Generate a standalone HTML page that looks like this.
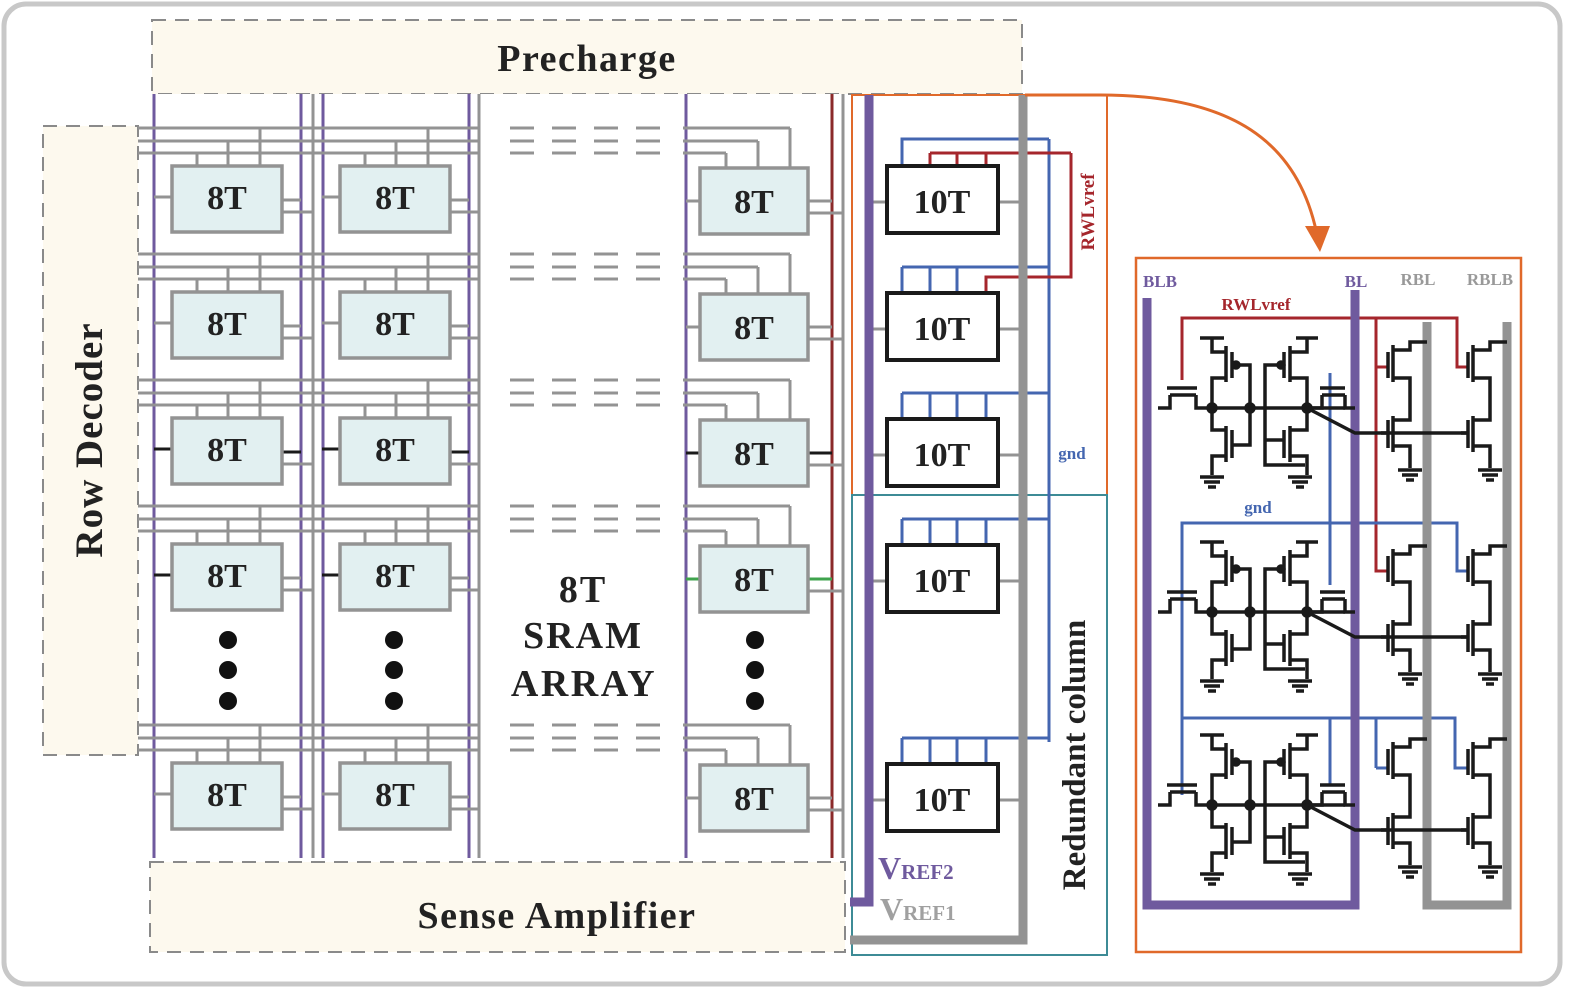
<!DOCTYPE html>
<html><head><meta charset="utf-8">
<style>
html,body{margin:0;padding:0;background:#fff;}
svg{display:block;}
text{font-family:"Liberation Serif",serif;font-weight:bold;}
</style></head>
<body>
<svg id="s" width="1575" height="992" viewBox="0 0 1575 992" xmlns="http://www.w3.org/2000/svg"></svg>
<script>
var G='#939393',P='#6f5a9e',R='#a5262c',B='#4466b0',O='#e0692a',T='#3d8b96',K='#1a1a1a',DR='#8b2a2a';
var o='';
function L(x1,y1,x2,y2,c,w){o+='<line x1="'+x1+'" y1="'+y1+'" x2="'+x2+'" y2="'+y2+'" stroke="'+c+'" stroke-width="'+(w||3)+'"/>';}
function PL(pts,c,w){o+='<polyline points="'+pts+'" fill="none" stroke="'+c+'" stroke-width="'+(w||3)+'" stroke-linejoin="miter"/>';}
function RC(x,y,w,h,f,s,sw,extra){o+='<rect x="'+x+'" y="'+y+'" width="'+w+'" height="'+h+'" fill="'+f+'" stroke="'+s+'" stroke-width="'+sw+'" '+(extra||'')+'/>';}
function TX(x,y,t,sz,c,extra){o+='<text x="'+x+'" y="'+y+'" font-size="'+sz+'" fill="'+(c||'#222')+'" text-anchor="middle" '+(extra||'')+'>'+t+'</text>';}
RC(4,4,1556,980,'none','#c8c8c8',5,'rx="22"');
RC(152,20,870,74,'#fdf9ee','#8a8a8a',2,'stroke-dasharray="14,9"');
TX(587,71,'Precharge',38,'#222','letter-spacing="1.5"');
RC(43,126,95,629,'#fdf9ee','#8a8a8a',2,'stroke-dasharray="14,9"');
TX(0,0,'Row Decoder',39,'#222','transform="translate(102,440) rotate(-90)" letter-spacing="1"');
RC(150,862,695,90,'#fdf9ee','#8a8a8a',2,'stroke-dasharray="14,9"');
TX(557,928,'Sense Amplifier',38,'#222','letter-spacing="1.5"');
RC(140,94,708,766,'#fff','none',0);
[154,301,323,469,686].forEach(function(x){L(x,94,x,858,P,3);});
[313,479,843].forEach(function(x){L(x,94,x,858,G,3);});
L(832,94,832,858,DR,3);
var rows=[166,292,418,544,763];
rows.forEach(function(t,i){
  var y1=t-38,y2=t-25,y3=t-13;
  [y1,y2,y3].forEach(function(y,j){L(138,y,480,y,G,3);
    for(var k=0;k<4;k++) L(510+k*42,y,534+k*42,y,G,3);
    L(683,y,[790,758,726][j],y,G,3);});
  L(790,y1,790,t+2,G,3);L(758,y2,758,t+2,G,3);L(726,y3,726,t+2,G,3);
  [0,168].forEach(function(dx){
    L(260+dx,y1,260+dx,t,G,3);L(228+dx,y2,228+dx,t,G,3);L(197+dx,y3,197+dx,t,G,3);
    L(154+dx,t+31,172+dx,t+31,(i==2||i==3)?K:G,3);
    L(282+dx,t+34,(dx?469:301),t+34,(i==2)?K:G,3);
    L(282+dx,t+46,(dx?479:313),t+46,G,3);
    RC(172+dx,t,110,66,'#e2f0f1',G,3.5);
    TX(227+dx,t+43,'8T',34,'#222');
  });
  var tt=t+2;
  L(686,tt+33,700,tt+33,i==3?'#3fa34d':(i==2?K:G),3);
  L(808,tt+33,832,tt+33,i==3?'#3fa34d':(i==2?K:G),3);
  L(808,tt+45,843,tt+45,G,3);
  RC(700,tt,108,66,'#e2f0f1',G,3.5);
  TX(754,tt+45,'8T',34,'#222');
});
[228,394,755].forEach(function(x){[640,670,701].forEach(function(y){o+='<circle cx="'+x+'" cy="'+y+'" r="9" fill="#111"/>';});});
TX(583,602,'8T',38,'#222','letter-spacing="2"');TX(583,648,'SRAM',38,'#222','letter-spacing="2"');TX(584,696,'ARRAY',38,'#222','letter-spacing="2.5"');
RC(852,95,255,400,'none',O,2);
RC(852,495,255,460,'none',T,2);
L(1049,139,1049,742,B,3);
var tc=[166,293,419,545,764];
tc.forEach(function(t,i){
  if(i==0){PL('902,'+t+' 902,139 1049,139',B,3);}
  else{var yb=t-26;L(902,yb,1049,yb,B,3);[902,930,957].concat(i>1?[986]:[]).forEach(function(x){L(x,yb,x,t,B,3);});}
  L(872,t+36,887,t+36,G,3);L(998,t+36,1023,t+36,G,3);
});
L(930,153,1071,153,R,3);[930,957,986].forEach(function(x){L(x,153,x,166,R,3);});
PL('1071,153 1071,277 986,277 986,293',R,3);
tc.forEach(function(t){RC(887,t,111,67,'#fff',K,4);TX(942,t+47,'10T',34,'#222');});
PL('869,95 869,902 850,902',P,9);
PL('1023,95 1023,940 850,940',G,9);
TX(0,0,'RWLvref',19,R,'transform="translate(1094,212) rotate(-90)"');
TX(1072,459,'gnd',17,B);
TX(0,0,'Redundant column',33,'#222','transform="translate(1085,755) rotate(-90)"');
o+='<text x="878" y="879" font-size="32" fill="'+P+'">V<tspan font-size="21">REF2</tspan></text>';
o+='<text x="880" y="920" font-size="32" fill="#a0a0a0">V<tspan font-size="21">REF1</tspan></text>';
o+='<path d="M1025,95 L1100,95 C1230,95 1300,140 1318,240" fill="none" stroke="'+O+'" stroke-width="3"/>';
o+='<polygon points="1305,226 1330,226 1320,252" fill="'+O+'"/>';
RC(1136,258,385,694,'none',O,2.5);
TX(1160,287,'BLB',17,P);TX(1356,287,'BL',17,P);TX(1418,285,'RBL',17,'#999');TX(1490,285,'RBLB',17,'#999');
TX(1256,310,'RWLvref',17,R);TX(1258,513,'gnd',17,B);
PL('1182,380 1182,318 1457,318 1457,367 1468,367',R,3);
PL('1376,318 1376,571 1388,571',R,3);
PL('1376,367 1388,367',R,3);
L(1330,373,1330,585,B,3);
PL('1182,795 1182,523 1457,523 1457,571 1468,571',B,3);
PL('1182,718 1455,718 1455,768 1468,768',B,3);
L(1330,718,1330,785,B,3);
L(1376,718,1376,768,B,3);L(1376,768,1388,768,B,3);
PL('1147,298 1147,905 1355,905 1355,290',P,9);
PL('1427,322 1427,905 1507,905 1507,322',G,9);
function cell(dy){
  var s='<g transform="translate(0,'+dy+')" fill="none" stroke="'+K+'" stroke-width="3.5">';
  function p(d){s+='<path d="'+d+'"/>';}
  function gnd(x,y){p('M'+(x-12)+','+y+' H'+(x+12)+' M'+(x-8)+','+(y+5)+' H'+(x+8)+' M'+(x-4)+','+(y+10)+' H'+(x+4));}
  p('M1158,408 H1170 V395 M1196,395 V408 H1212 M1167,388 H1197 M1170,395 H1196');
  p('M1200,338 H1224 M1212,338 V352 H1226 M1226,346 V382 M1232,352 V378 M1226,378 H1212 V430 H1226 M1226,426 V462 M1232,430 V458 M1226,456 H1212 V475');
  gnd(1212,477);
  p('M1238,365 H1250 V445 H1232');
  s+='<circle cx="1236" cy="365" r="3" fill="'+K+'"/>';
  p('M1296,338 H1318 M1307,338 V352 H1290 M1290,346 V382 M1284,352 V378 M1290,378 H1307 V430 H1290 M1290,426 V462 M1284,430 V458 M1290,456 H1307 V475');
  gnd(1300,477);
  p('M1279,365 H1265 V465 H1305 M1265,440 H1284');
  s+='<circle cx="1281" cy="365" r="3" fill="'+K+'"/>';
  p('M1212,408 H1345');
  p('M1307,408 H1322 V395 M1345,395 V408 H1355 M1320,388 H1345 M1322,395 H1345');
  p('M1307,408 L1355,433 H1468');
  s+='<circle cx="1212" cy="408" r="4" fill="'+K+'"/><circle cx="1250" cy="408" r="4" fill="'+K+'"/><circle cx="1307" cy="408" r="4" fill="'+K+'"/>';
  [0,80].forEach(function(dx){
    var x=1393+dx, rail=dx?1507:1427;
    p('M'+(x-5)+',352 V378 M'+x+',345 V382 M'+x+',350 H'+(x+17)+' V342 H'+(rail)+' M'+x+',378 H'+(x+17)+' V420 H'+x+' M'+x+',416 V452 M'+(x-5)+',420 V448 M'+x+',446 H'+(x+17)+' V468 M'+(x-5)+',433 H'+(x-12));
    gnd(x+17,470);
  });
  s+='</g>';o+=s;
}
cell(0);cell(204);cell(397);
document.getElementById('s').innerHTML=o;
</script>
</body></html>
